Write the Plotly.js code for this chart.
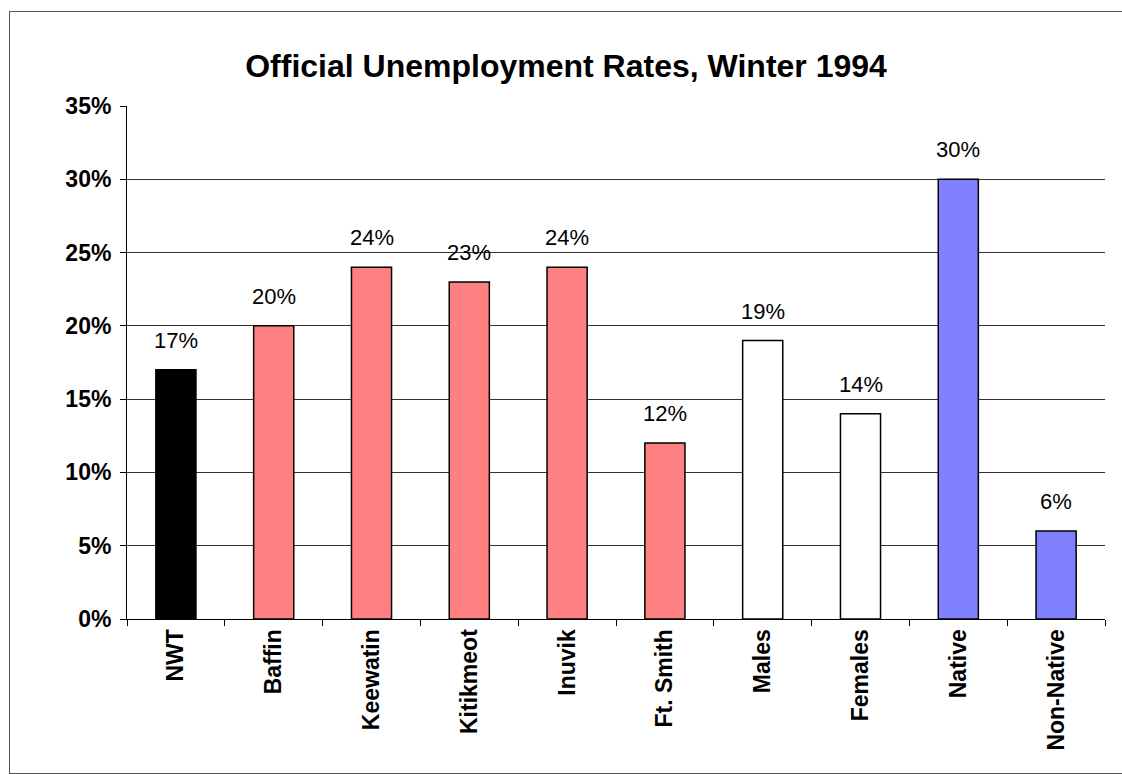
<!DOCTYPE html>
<html><head><meta charset="utf-8">
<script src="https://cdn.plot.ly/plotly-3.0.1.min.js"></script>
<style>html,body{margin:0;padding:0;background:#fff;}#wrap{position:relative;width:1122px;height:774px;}#chart{width:1122px;height:774px;}#frame{position:absolute;left:9px;top:11px;width:1130px;height:761px;border:1.5px solid #555;pointer-events:none;}</style>
</head><body>
<div id="wrap"><div id="chart"></div><div id="frame"></div></div>
<script>
const categories = ["NWT","Baffin","Keewatin","Kitikmeot","Inuvik","Ft. Smith","Males","Females","Native","Non-Native"];
const rates = [0.17,0.20,0.24,0.23,0.24,0.12,0.19,0.14,0.30,0.06];
const barColors = ["#000000","#FF8080","#FF8080","#FF8080","#FF8080","#FF8080","#FFFFFF","#FFFFFF","#8080FF","#8080FF"];
const font = "Arial, 'Liberation Sans', sans-serif";

const trace = {
  type: "bar", x: categories, y: rates,
  marker: {color: barColors, line: {color: "#000", width: 1.5}},
  width: 0.41, hoverinfo: "skip"
};
const annotations = categories.map((c, i) => ({
  x: c, y: rates[i], xref: "x", yref: "y",
  text: Math.round(rates[i]*100) + "%", showarrow: false,
  yanchor: "bottom", yshift: 15,
  font: {family: font, size: 22, color: "#000"}
}));
const layout = {
  width: 1122, height: 774,
  margin: {l: 127, r: 17, t: 106, b: 155},
  paper_bgcolor: "#fff", plot_bgcolor: "#fff",
  title: {text: "<b>Official Unemployment Rates, Winter 1994</b>", x: 0.5045, xref: "container", y: 0.915, yanchor: "middle",
          font: {family: font, size: 32, color: "#000"}},
  showlegend: false,
  xaxis: {
    type: "category", showline: true, linecolor: "#000", linewidth: 1,
    ticks: "outside", ticklen: 6, tickcolor: "#000", tickson: "boundaries",
    tickangle: -90, tickfont: {family: font, size: 23, color: "#000", weight: "bold"},
    showgrid: false, fixedrange: true
  },
  yaxis: {
    range: [0, 0.35], dtick: 0.05, tickformat: ".0%",
    showline: true, linecolor: "#000", linewidth: 1,
    ticks: "outside", ticklen: 6, tickcolor: "#000", ticklabelstandoff: 4,
    showgrid: true, gridcolor: "#333", gridwidth: 1, zeroline: false,
    tickfont: {family: font, size: 23, color: "#000", weight: "bold"},
    fixedrange: true
  },
  annotations: annotations
};
Plotly.newPlot("chart", [trace], layout, {staticPlot: true});
</script>
</body></html>
